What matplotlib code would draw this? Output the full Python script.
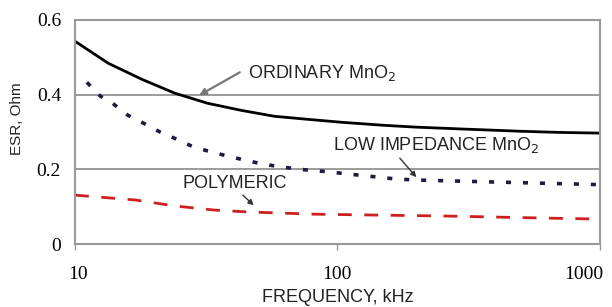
import matplotlib
matplotlib.use("Agg")
import matplotlib.pyplot as plt
import matplotlib.transforms as mtransforms
from matplotlib.ticker import FixedLocator, NullLocator

# Data
ord_f = [10, 13.4, 18, 24, 32, 43, 57.7, 77, 104, 150, 200, 300, 500, 700, 1000]
ord_esr = [0.543, 0.484, 0.441, 0.404, 0.377, 0.358, 0.342, 0.334, 0.326,
           0.318, 0.313, 0.308, 0.302, 0.299, 0.297]

low_f = [11.1, 12.5, 13.9, 15.9, 18.2, 21.1, 24, 27.9, 32.1, 37, 43, 49.8,
         57.7, 67, 77, 95, 102, 168, 211, 404, 890, 1000]
low_esr = [0.433, 0.396, 0.377, 0.345, 0.324, 0.30, 0.283, 0.262, 0.249, 0.238,
           0.227, 0.217, 0.209, 0.203, 0.198, 0.193, 0.19, 0.174, 0.171, 0.166,
           0.16, 0.159]

poly_f = [10, 17, 24, 34, 45.5, 82, 102, 261, 578, 970, 1000]
poly_esr = [0.131, 0.118, 0.102, 0.091, 0.086, 0.080, 0.079, 0.075, 0.07,
            0.067, 0.067]

x_ticks = [10, 100, 1000]
x_ticklabels = ["10", "100", "1000"]
y_ticks = [0, 0.2, 0.4, 0.6]
y_ticklabels = ["0", "0.2", "0.4", "0.6"]

fig = plt.figure(figsize=(6.12, 3.07), dpi=100)
ax = fig.add_axes([0.1225, 0.205, 0.8575, 0.73])

ax.plot(ord_f, ord_esr, color="black", lw=2.0, solid_capstyle="butt")
ax.plot(low_f, low_esr, color="#1c1c3c", lw=2.6, linestyle=(0, (1.4, 3.3)))
ax.plot(poly_f, poly_esr, color="#cc2020", lw=2.0, linestyle=(0, (5, 4.5)))

ax.set_xscale("log")
ax.set_xlim(10, 1000)
ax.set_ylim(0, 0.6)

ax.xaxis.set_major_locator(FixedLocator(x_ticks))
ax.xaxis.set_minor_locator(NullLocator())
ax.set_xticklabels(x_ticklabels, family="Liberation Serif", fontsize=14)
ax.set_yticks(y_ticks)
ax.set_yticklabels(y_ticklabels, family="Liberation Serif", fontsize=14)
ax.tick_params(axis="x", length=4, width=1, color="#999999", pad=12)
ax.tick_params(axis="y", length=0, pad=10)

# shift first / last x tick labels like the reference
lbls = ax.get_xticklabels()
lbls[0].set_transform(lbls[0].get_transform() +
                      mtransforms.ScaledTranslation(3 / 100, 0, fig.dpi_scale_trans))
lbls[-1].set_transform(lbls[-1].get_transform() +
                       mtransforms.ScaledTranslation(-16 / 100, 0, fig.dpi_scale_trans))

for s in ax.spines.values():
    s.set_color("#999999")
    s.set_linewidth(1.5)

for yv in [0.2, 0.4]:
    ax.axhline(yv, color="#8a8a8a", lw=1.2, zorder=0)

sans = "Liberation Sans"
ax.set_xlabel("FREQUENCY, kHz", family=sans, fontsize=13, color="#222222", labelpad=4)
ax.set_ylabel("ESR, Ohm", family=sans, fontsize=11, color="#222222", labelpad=8)
ax.yaxis.set_label_coords(-0.098, 0.56)

ax.text(45.5, 0.457, r"ORDINARY MnO$_2$", family=sans, fontsize=13,
        color="#222222", va="center", ha="left")
ax.annotate("", xy=(29.7, 0.398), xytext=(42.5, 0.46),
            arrowprops=dict(arrowstyle="-|>", color="#777777", lw=1.6,
                            mutation_scale=10, shrinkA=0, shrinkB=0))

ax.text(96, 0.265, r"LOW IMPEDANCE MnO$_2$", family=sans, fontsize=13,
        color="#222222", va="center", ha="left")
ax.annotate("", xy=(200, 0.179), xytext=(173, 0.23),
            arrowprops=dict(arrowstyle="-|>", color="#333333", lw=1.0,
                            mutation_scale=8, shrinkA=0, shrinkB=0))

ax.text(25.8, 0.163, "POLYMERIC", family=sans, fontsize=13,
        color="#222222", va="center", ha="left")
ax.annotate("", xy=(48, 0.104), xytext=(43.6, 0.131),
            arrowprops=dict(arrowstyle="-|>", color="#333333", lw=1.0,
                            mutation_scale=8, shrinkA=0, shrinkB=0))

fig.savefig("out.png", dpi=100)
